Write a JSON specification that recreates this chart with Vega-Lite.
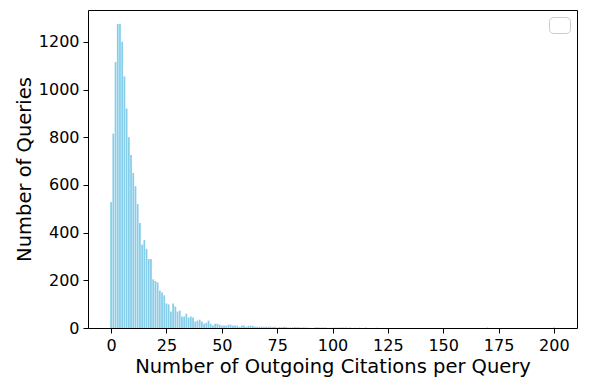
{
  "$schema": "https://vega.github.io/schema/vega-lite/v6.json",
  "width": 489,
  "height": 318,
  "autosize": "none",
  "padding": {"left": 88, "top": 10, "right": 13, "bottom": 62},
  "background": "white",
  "config": {
    "font": "DejaVu Sans",
    "view": {"stroke": "black", "strokeWidth": 1},
    "axis": {
      "grid": false,
      "labelFont": "DejaVu Sans",
      "titleFont": "DejaVu Sans",
      "labelFontSize": 16,
      "titleFontSize": 19.5,
      "titleFontWeight": "normal",
      "labelColor": "black",
      "titleColor": "black",
      "tickColor": "black",
      "domainColor": "black",
      "tickSize": 5,
      "labelPadding": 4
    }
  },
  "data": {
    "values": [
      {"n": 0, "count": 528}, {"n": 1, "count": 815}, {"n": 2, "count": 1115}, {"n": 3, "count": 1275},
      {"n": 4, "count": 1275}, {"n": 5, "count": 1200}, {"n": 6, "count": 1055}, {"n": 7, "count": 920},
      {"n": 8, "count": 800}, {"n": 9, "count": 725}, {"n": 10, "count": 650}, {"n": 11, "count": 595},
      {"n": 12, "count": 520}, {"n": 13, "count": 440}, {"n": 14, "count": 349}, {"n": 15, "count": 369},
      {"n": 16, "count": 332}, {"n": 17, "count": 289}, {"n": 18, "count": 289}, {"n": 19, "count": 204},
      {"n": 20, "count": 197}, {"n": 21, "count": 191}, {"n": 22, "count": 157}, {"n": 23, "count": 149},
      {"n": 24, "count": 137}, {"n": 25, "count": 103}, {"n": 26, "count": 99}, {"n": 27, "count": 69},
      {"n": 28, "count": 103}, {"n": 29, "count": 90}, {"n": 30, "count": 69}, {"n": 31, "count": 73},
      {"n": 32, "count": 48}, {"n": 33, "count": 48}, {"n": 34, "count": 60}, {"n": 35, "count": 44},
      {"n": 36, "count": 48}, {"n": 37, "count": 44}, {"n": 38, "count": 27}, {"n": 39, "count": 31},
      {"n": 40, "count": 35}, {"n": 41, "count": 27}, {"n": 42, "count": 18}, {"n": 43, "count": 22},
      {"n": 44, "count": 31}, {"n": 45, "count": 18}, {"n": 46, "count": 10}, {"n": 47, "count": 18},
      {"n": 48, "count": 18}, {"n": 49, "count": 14}, {"n": 50, "count": 10}, {"n": 51, "count": 10},
      {"n": 52, "count": 10}, {"n": 53, "count": 14}, {"n": 54, "count": 14}, {"n": 55, "count": 10},
      {"n": 56, "count": 10}, {"n": 57, "count": 10}, {"n": 58, "count": 5}, {"n": 59, "count": 10},
      {"n": 60, "count": 10}, {"n": 61, "count": 5}, {"n": 62, "count": 9}, {"n": 63, "count": 10},
      {"n": 64, "count": 9}, {"n": 65, "count": 5}, {"n": 66, "count": 6}, {"n": 67, "count": 5},
      {"n": 68, "count": 6}, {"n": 69, "count": 4}, {"n": 70, "count": 5}, {"n": 71, "count": 5},
      {"n": 72, "count": 6}, {"n": 73, "count": 4}, {"n": 74, "count": 5}, {"n": 75, "count": 2},
      {"n": 76, "count": 4}, {"n": 77, "count": 4}, {"n": 78, "count": 5}, {"n": 79, "count": 4},
      {"n": 80, "count": 2}, {"n": 81, "count": 2}, {"n": 82, "count": 3}, {"n": 83, "count": 4},
      {"n": 84, "count": 3}, {"n": 85, "count": 3}, {"n": 86, "count": 2}, {"n": 87, "count": 3},
      {"n": 88, "count": 2}, {"n": 89, "count": 1}, {"n": 90, "count": 1}, {"n": 92, "count": 2},
      {"n": 93, "count": 3}, {"n": 94, "count": 2}, {"n": 95, "count": 2}, {"n": 96, "count": 2},
      {"n": 97, "count": 2}, {"n": 99, "count": 1}, {"n": 100, "count": 1}, {"n": 101, "count": 2},
      {"n": 102, "count": 1}, {"n": 103, "count": 2}, {"n": 104, "count": 2}, {"n": 105, "count": 2},
      {"n": 106, "count": 2}, {"n": 107, "count": 1}, {"n": 108, "count": 2}, {"n": 110, "count": 1},
      {"n": 112, "count": 1}, {"n": 115, "count": 2}, {"n": 120, "count": 1}, {"n": 170, "count": 2},
      {"n": 200, "count": 2}
    ]
  },
  "mark": {"type": "bar", "width": 1.78, "color": "#87CEEB"},
  "encoding": {
    "x": {
      "field": "n",
      "type": "quantitative",
      "scale": {"domain": [-10.44, 210.44], "nice": false, "zero": false, "padding": 0},
      "axis": {"values": [0, 25, 50, 75, 100, 125, 150, 175, 200], "title": "Number of Outgoing Citations per Query", "titlePadding": 4, "domain": false}
    },
    "y": {
      "field": "count",
      "type": "quantitative",
      "scale": {"domain": [0, 1333.5], "nice": false, "padding": 0},
      "axis": {"values": [0, 200, 400, 600, 800, 1000, 1200], "format": "d", "title": "Number of Queries", "titlePadding": 4, "domain": false}
    },
    "color": {
      "datum": "series",
      "scale": {"range": ["#87CEEB"]},
      "legend": {
        "title": null,
        "orient": "top-right",
        "offset": 7,
        "labelExpr": "''",
        "symbolOpacity": 0,
        "symbolSize": 1,
        "labelFontSize": 1,
        "padding": 7,
        "strokeColor": "#cccccc",
        "fillColor": "white",
        "cornerRadius": 4
      }
    }
  }
}
